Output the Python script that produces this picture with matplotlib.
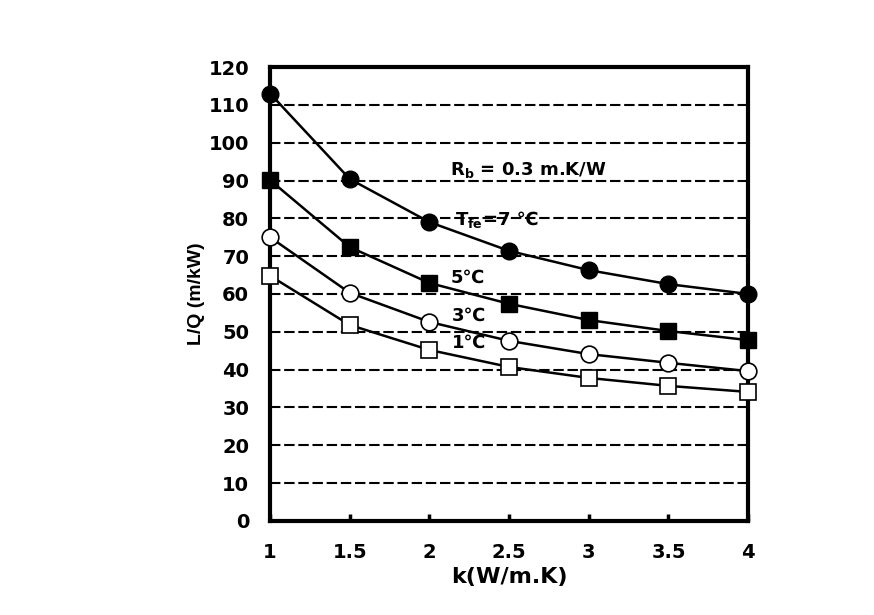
import matplotlib
matplotlib.use("Agg")
import matplotlib.pyplot as plt

plt.rcParams['font.family'] = ['DejaVu Sans', 'Noto Sans CJK KR']
plt.rcParams['font.weight'] = 'bold'
plt.rcParams['mathtext.default'] = 'bf'

k = [1, 1.5, 2, 2.5, 3, 3.5, 4]
t7 = [113, 90.4, 79, 71.4, 66.3, 62.6, 60]
t5 = [90.1, 72.4, 62.9, 57.4, 53.1, 50.2, 47.8]
t3 = [75, 60.3, 52.6, 47.6, 44.1, 41.8, 39.6]
t1 = [64.8, 51.8, 45.2, 40.7, 37.8, 35.7, 34.1]
yticks = list(range(0, 121, 10))
xticks = [1, 1.5, 2, 2.5, 3, 3.5, 4]
xticklabels = ['1', '1.5', '2', '2.5', '3', '3.5', '4']

fig = plt.figure(figsize=(8.74, 6.15), dpi=100)
ax = fig.add_axes([0.309, 0.153, 0.547, 0.738])

for g in range(10, 120, 10):
    ax.axhline(g, color='black', lw=1.5, ls=(0, (5, 1.8)), zorder=1)

ms = 12
ax.plot(k, t7, '-o', color='black', mfc='black', mec='black', ms=ms, lw=1.8, zorder=3, clip_on=False)
ax.plot(k, t5, '-s', color='black', mfc='black', mec='black', ms=ms, lw=1.8, zorder=3, clip_on=False)
ax.plot(k, t3, '-o', color='black', mfc='white', mec='black', ms=ms, mew=1.2, lw=1.8, zorder=3, clip_on=False)
ax.plot(k, t1, '-s', color='black', mfc='white', mec='black', ms=ms, mew=1.2, lw=1.8, zorder=3, clip_on=False)

ax.set_xlim(1, 4)
ax.set_ylim(0, 120)
ax.set_xticks(xticks)
ax.set_xticklabels(xticklabels)
ax.set_yticks(yticks)
ax.tick_params(axis='x', direction='in', length=5, width=2.5, labelsize=14, pad=16)
ax.tick_params(axis='y', length=0, labelsize=14, pad=15)
for lbl in ax.get_xticklabels() + ax.get_yticklabels():
    lbl.set_fontweight('bold')
for s in ax.spines.values():
    s.set_linewidth(3)

ax.set_xlabel('k(W/m.K)', fontsize=16, fontweight='bold')
ax.xaxis.label.set_va('center')
ax.xaxis.set_label_coords(0.5, -0.123)
ax.set_ylabel('L/Q (m/kW)', fontsize=14, fontweight='bold', family='Liberation Sans')
ax.yaxis.label.set_va('center')
ax.yaxis.set_label_coords(-0.153, 0.5)

fs = 13
ax.text(2.13, 92.8, r'R$_{\mathbf{b}}$ = 0.3 m.K/W', fontsize=fs, fontweight='bold', va='center', ha='left')
t_fe = ax.text(2.16, 79.6, r'T$_{\mathbf{fe}}$', fontsize=fs, fontweight='bold', va='center', ha='left')
ax.text(2.13, 64.2, '5℃', fontsize=fs, fontweight='bold', va='center', ha='left')
ax.text(2.14, 54.2, '3℃', fontsize=fs, fontweight='bold', va='center', ha='left')
ax.text(2.14, 47.0, '1℃', fontsize=fs, fontweight='bold', va='center', ha='left')

fig.canvas.draw()
bb = t_fe.get_window_extent()
_, ydisp = ax.transData.transform((2.16, 79.6))
fig.text(bb.x1 / fig.dpi / fig.get_figwidth(), ydisp / fig.dpi / fig.get_figheight(),
         '=7 ℃', fontsize=fs, fontweight='bold', va='center', ha='left')

fig.savefig('out.png', dpi=100)
